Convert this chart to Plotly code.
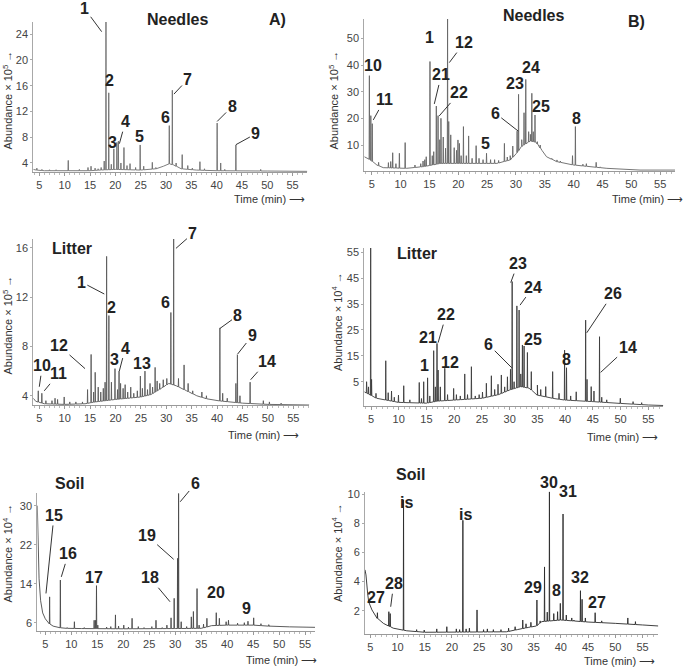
import numpy as np
import plotly.graph_objects as go

W, H = 685, 667
FONT = "Liberation Sans, Arial, Helvetica, sans-serif"
TXT = "#222222"

# ------------------------------------------------------------------ data
# A) Needles  (abundance x 10^5)
an_base_t = [3.8, 4.3, 6, 15, 17, 20, 25, 28, 29.5, 30.5, 31.5, 33, 36, 40, 50, 57.9]
an_base_v = [3.0, 2.9, 2.8, 2.8, 2.9, 3.0, 2.9, 3.1, 3.5, 3.9, 3.7, 3.1, 2.9, 2.8, 2.75, 2.7]
an_peak_t = [4.5, 5.5, 7.0, 8.3, 10.7, 12.9, 14.6, 15.2, 16.0, 16.6, 17.2, 17.8, 18.15, 18.7, 19.2,
             19.7, 20.3, 20.6, 21.1, 21.7, 22.3, 22.9, 24.0, 24.9, 25.6, 27.3, 28.0, 30.65, 31.25,
             32.0, 33.2, 34.3, 35.2, 36.7, 37.6, 40.1, 40.8, 41.6, 43.8, 48.7]
an_peak_h = [3.2, 3.0, 2.95, 2.95, 4.4, 3.0, 3.3, 3.5, 3.2, 3.1, 3.3, 4.3, 26.0, 14.9, 3.8,
             6.2, 7.2, 7.4, 4.0, 6.4, 3.6, 3.9, 3.3, 6.8, 3.5, 4.1, 3.3, 9.8, 15.3,
             4.0, 5.3, 3.6, 3.2, 4.2, 3.1, 10.2, 4.0, 3.0, 6.8, 3.0]

# B) Needles  (abundance x 10^5)
bn_base_t = [3.72, 4.4, 5.9, 7, 11, 14, 17, 26.7, 29, 30.1, 31, 32.5, 33.5, 34.5, 35.3, 37.1, 40,
             45.75, 51.5, 57.56]
bn_base_v = [5.6, 5.0, 2.5, 1.5, 1.25, 1.9, 3.1, 3.1, 4.4, 6.9, 9.5, 11.5, 11.0, 8.0, 5.6, 3.75, 2.5,
             1.25, 0.6, 0.6]
bn_peak_t = [4.6, 4.85, 5.1, 6.2, 7.9, 8.3, 8.64, 9.2, 9.8, 10.8, 12.5, 13.5, 13.9, 14.2, 14.45,
             15.1, 15.5, 15.75, 16.2, 16.5, 16.8, 17.0, 17.4, 17.8, 18.15, 18.35, 18.7, 19.3, 19.7,
             19.95, 20.2, 20.5, 20.9, 21.4, 21.8, 22.4, 23.1, 23.6, 24.3, 24.9, 25.6, 26.3, 27.0,
             28.0, 28.5, 29.0, 29.45, 30.2, 30.45, 31.0, 31.4, 31.7, 32.2, 32.5, 32.75, 33.0, 33.3,
             33.7, 34.2, 36.2, 37.1, 37.7, 39.8, 40.3, 41.6, 42.2, 43.9, 44.6]
bn_peak_h = [36, 21, 18, 3.5, 3.4, 3.8, 7.1, 3.0, 6.9, 10.9, 2.5, 3.0, 4.0, 4.5, 5.6,
             41.3, 6.0, 7.5, 24.6, 21, 12, 20, 13, 8.8, 57.5, 18.8, 13.8, 9, 8,
             11.9, 10.6, 6, 16.9, 6, 13.4, 5, 9.75, 5, 4.5, 6.9, 4.5, 4.5, 4.2,
             10.6, 5.5, 6, 9.6, 15.2, 29, 12, 22.1, 34.6, 15, 14, 29.4, 15, 21.25,
             11.25, 10, 5, 4.4, 4.0, 6, 16.9, 2.8, 3, 3.5, 1.8]

# A) Litter  (abundance x 10^5)
al_base_t = [3.82, 4.3, 6, 10, 14, 16, 20, 25, 27, 29, 30.5, 32, 34, 36, 38, 40, 45, 50, 58.15]
al_base_v = [3.8, 3.55, 3.35, 3.3, 3.35, 3.5, 3.7, 3.9, 4.1, 4.6, 5.0, 4.8, 4.4, 4.0, 3.75, 3.6,
             3.4, 3.3, 3.25]
al_peak_t = [4.8, 5.5, 6.3, 7.5, 8.1, 8.6, 9.9, 11.0, 12.2, 13.5, 14.5, 15.2, 15.7, 16.0, 16.6,
             17.1, 17.6, 17.95, 18.25, 18.7, 19.2, 19.9, 20.4, 20.7, 21.0, 21.5, 21.9, 22.4, 23.0,
             23.6, 24.3, 24.9, 25.3, 25.8, 26.3, 26.8, 27.3, 27.8, 28.2, 28.7, 29.4, 30.1, 30.9,
             31.45, 32.4, 33.5, 34.3, 35.2, 37.0, 37.9, 40.55, 41.1, 42.0, 43.7, 44.0, 44.5, 46.5,
             49.1, 50.3, 52.6]
al_peak_h = [4.4, 4.2, 3.6, 3.6, 3.8, 3.7, 3.9, 3.5, 3.5, 3.5, 4.5, 7.35, 4.3, 5.9, 4.7,
             4.3, 4.6, 5.1, 15.3, 10.5, 5.1, 6.2, 4.5, 6.0, 5.0, 4.6, 4.9, 4.3, 4.7,
             4.2, 4.4, 5.6, 4.6, 6.0, 4.5, 5.0, 4.7, 6.3, 5.2, 5.0, 5.3, 5.4, 10.75,
             16.8, 5.4, 6.5, 5.0, 4.4, 4.3, 4.0, 9.5, 4.2, 3.8, 5.0, 7.3, 4.0, 5.1,
             3.6, 3.5, 3.4]

# B) Litter  (abundance x 10^4)
bl_base_t = [3.79, 4.3, 6, 10, 15, 17, 20, 25, 28, 30, 32, 33.5, 35, 38, 40, 45, 50, 55, 57.7]
bl_base_v = [1.1, 0.5, -1.4, -3.0, -3.3, -2.5, -2.1, -1.4, 0.0, 1.8, 3.1, 2.5, -0.2, -1.5, -2.1,
             -2.7, -3.4, -4.0, -4.2]
bl_peak_t = [4.2, 4.55, 4.94, 5.1, 5.9, 7.66, 8.1, 8.7, 9.2, 9.95, 10.9, 12.0, 13.7, 14.1, 14.5,
             15.2, 15.6, 16.3, 16.6, 16.9, 17.1, 17.5, 18.3, 18.8, 19.9, 20.4, 21.1, 21.9, 22.4,
             23.1, 23.8, 24.5, 25.1, 25.8, 26.7, 27.3, 27.9, 28.5, 29.1, 29.6, 30.15, 30.45, 30.8,
             31.3, 31.7, 32.0, 32.3, 32.6, 33.2, 33.9, 35.0, 35.6, 36.5, 37.75, 38.9, 39.9, 40.25,
             41.0, 42.0, 43.7, 43.95, 44.7, 45.2, 46.2, 46.6, 47.5, 49.95, 52.25, 53.8]
bl_peak_h = [5, 3, 60, 5.9, 0.5, 13.1, 0.75, 1.4, -1, -0.2, 3.45, -2, 4.7, -1.5, 5,
             6.5, -0.5, 17, 3, 19.8, 9.5, 3, 10.2, 0, 2.4, 0, -0.5, 8, 0,
             10.8, -0.5, 0, 1, 4.4, 7.3, 2, 4, 7.6, 3, 6.9, 9.8, 43.7, 5,
             34.3, 32.7, 8, 19.2, 18.8, 16.3, 8.9, 3.7, 2, 3.1, 8.9, 0.5, 17.2, 10.4,
             -0.5, 1.1, 28.8, 5.9, 3.1, 1.4, 22.4, -1, -2, -1.4, -2.7, -3.1]

# A) Soil  (abundance x 10^4)
as_base_t = [3.46, 3.6, 3.8, 4.1, 4.5, 5, 5.6, 6.5, 7.5, 9, 12, 20, 30, 35, 36, 37, 40, 45, 48,
             52, 56.9]
as_base_v = [30, 24, 15, 10.5, 8, 6.8, 5.9, 5.3, 5.0, 4.85, 4.8, 4.75, 4.8, 4.85, 5.1, 5.4, 5.5,
             5.5, 5.3, 5.15, 5.05]
as_peak_t = [5.83, 7.9, 9.2, 10.6, 12.5, 14.4, 14.65, 14.85, 15.1, 16.8, 17.6, 18.5, 19.1, 20.1,
             21.0, 21.7, 22.9, 24.0, 25.5, 26.3, 27.5, 28.4, 29.2, 29.8, 30.45, 30.65, 31.15,
             32.2, 33.1, 33.5, 34.2, 34.6, 35.45, 36.1, 37.9, 38.5, 39.8, 40.25, 42.0, 43.3, 44.0,
             45.1, 46.5, 48.0]
as_peak_h = [11.3, 14.75, 5.0, 6.2, 5.0, 6.5, 6.5, 13.6, 5.5, 5.1, 5.2, 7.6, 5.3, 5.5,
             5.1, 6.9, 5.2, 5.0, 5.2, 6.5, 5.0, 5.5, 7.0, 11.0, 19.2, 32.5, 6.2,
             5.2, 7.2, 8.3, 13.0, 5.5, 5.7, 6.9, 8.05, 6.9, 6.2, 6.5, 5.9, 6.0, 6.3,
             7.0, 5.8, 5.6]

# B) Soil  (abundance x 10^4)
bs_base_t = [4.02, 4.2, 4.5, 4.7, 5.3, 6.2, 7.4, 9.2, 11.7, 15, 30, 32, 34, 35.5, 36.5, 40, 45,
             50, 55, 57.9]
bs_base_v = [4.8, 4.45, 3.2, 2.6, 2.05, 1.5, 1.13, 0.8, 0.62, 0.52, 0.55, 0.7, 0.85, 0.95, 1.25,
             1.36, 1.22, 1.13, 1.02, 0.95]
bs_peak_t = [6.3, 8.4, 8.65, 11.1, 13.5, 14.9, 17.2, 19.05, 20.8, 21.4, 22.0, 22.6, 23.2, 24.6,
             25.8, 26.5, 27.6, 29.0, 30.4, 31.6, 33.0, 33.6, 34.5, 35.6, 36.2, 37.0, 37.5, 37.9,
             38.7, 39.4, 39.9, 40.4, 41.0, 42.0, 42.4, 43.6, 43.9, 44.5, 46.3, 47.5, 52.3, 53.7]
bs_peak_h = [1.86, 1.93, 1.8, 9.6, 0.7, 0.67, 0.75, 0.9, 0.75, 0.7, 8.2, 0.75, 0.8, 2.05,
             0.7, 0.75, 0.7, 0.7, 0.8, 0.9, 1.36, 1.1, 1.2, 2.73, 1.3, 5.0, 1.9, 10.16,
             1.8, 1.93, 2.5, 8.63, 1.7, 1.5, 1.36, 3.37, 2.78, 1.5, 1.86, 1.3, 1.5, 1.25]

x_ticks = [5, 10, 15, 20, 25, 30, 35, 40, 45, 50, 55]

# peak labels: (text, time, abundance, leader dx px, leader dy px) ; dx=None -> no leader
an_labels = [("1", 17.3, 24.4, -17, -23), ("2", 18.8, 16.76, None, None), ("3", 19.4, 7.2, None, None),
             ("4", 20.8, 7.0, 6, -22), ("5", 24.86, 8.1, None, None), ("6", 29.9, 11.0, None, None),
             ("7", 31.57, 14.7, 14, -15), ("8", 40.1, 10.45, 15, -15), ("9", 43.8, 6.84, 20, -11)]
bn_labels = [("10", 5.28, 39.7, None, None), ("11", 5.28, 19.4, 11, -20), ("1", 14.98, 50.2, None, None),
             ("12", 18.45, 40.9, 15, -20), ("21", 15.85, 25.4, 7, -29), ("22", 16.7, 20.9, 20, -23),
             ("5", 24.75, 10.4, None, None), ("6", 30.4, 15.2, -23, -18), ("23", 29.84, 33.1, None, None),
             ("24", 32.56, 39.0, None, None), ("25", 34.3, 24.6, None, None), ("8", 40.5, 20.0, None, None)]
al_labels = [("1", 17.8, 12.25, -23, -12), ("2", 19.25, 11.17, None, None), ("12", 14.0, 6.2, -26, -23),
             ("10", 5.0, 4.73, 3, -21), ("11", 5.98, 4.4, 14, -17), ("3", 19.76, 6.9, None, None),
             ("4", 20.75, 6.0, 6, -23), ("13", 25.3, 6.6, None, None), ("6", 29.9, 11.6, None, None),
             ("7", 31.9, 15.95, 17, -15), ("8", 40.57, 9.46, 18, -13), ("9", 43.98, 7.35, 15, -19),
             ("14", 46.6, 5.3, 16, -18)]
bl_labels = [("23", 30.19, 43.3, 7, -19), ("24", 31.87, 34.6, 13, -18), ("22", 17.1, 20.1, 8, -28),
             ("21", 15.3, 22.1, None, None), ("1", 14.6, 11.45, None, None), ("12", 19.25, 12.3, None, None),
             ("6", 30.37, 10.4, -23, -23), ("25", 34.15, 21.5, None, None), ("8", 40.3, 13.6, None, None),
             ("26", 43.9, 23.9, 26, -39), ("14", 46.4, 8.6, 27, -25)]
as_labels = [("15", 5.13, 12.0, 8, -78), ("16", 8.08, 15.4, 7, -23), ("17", 14.3, 15.2, None, None),
             ("19", 29.7, 19.0, -27, -24), ("18", 29.0, 10.3, -20, -24), ("6", 30.96, 30.8, 15, -18),
             ("20", 37.9, 12.15, None, None), ("9", 43.8, 8.9, None, None)]
bs_labels = [("is", 11.7, 9.43, None, None), ("is", 22.4, 8.63, None, None), ("27", 5.98, 2.91, None, None),
             ("28", 8.74, 2.27, 3, -23), ("29", 34.9, 3.58, None, None), ("30", 37.76, 10.78, None, None),
             ("31", 41.4, 10.16, None, None), ("8", 39.2, 3.35, None, None), ("32", 43.6, 4.29, None, None),
             ("27", 46.66, 2.57, None, None)]

# ------------------------------------------------------------------ layout (pixels)
panels = [
    dict(pt=an_peak_t, ph=an_peak_h, bt=an_base_t, bv=an_base_v, lab=an_labels, color="#6e6e6e",
         l=33.3, r=307.3, t=22, b=172, xr=[3.8, 57.9], yr=[2.6, 25.9], yt=[4, 8, 12, 16, 20, 24]),
    dict(pt=bn_peak_t, ph=bn_peak_h, bt=bn_base_t, bv=bn_base_v, lab=bn_labels, color="#666666",
         l=364.3, r=675, t=19, b=171, xr=[3.72, 57.56], yr=[0.25, 57.25], yt=[10, 20, 30, 40, 50]),
    dict(pt=al_peak_t, ph=al_peak_h, bt=al_base_t, bv=al_base_v, lab=al_labels, color="#5a5a5a",
         l=33.3, r=309.3, t=239, b=405, xr=[3.82, 58.15], yr=[3.25, 16.71], yt=[4, 8, 12, 16]),
    dict(pt=bl_peak_t, ph=bl_peak_h, bt=bl_base_t, bv=bl_base_v, lab=bl_labels, color="#3c3c3c",
         l=364.3, r=663.3, t=248, b=406, xr=[3.79, 57.7], yr=[-4.39, 56.68], yt=[5, 15, 25, 35, 45, 55]),
    dict(pt=as_peak_t, ph=as_peak_h, bt=as_base_t, bv=as_base_v, lab=as_labels, color="#4a4a4a",
         l=37.3, r=315, t=493, b=630.7, xr=[3.46, 56.9], yr=[4.36, 32.6], yt=[6, 14, 22, 30]),
    dict(pt=bs_peak_t, ph=bs_peak_h, bt=bs_base_t, bv=bs_base_v, lab=bs_labels, color="#2a2a2a",
         l=365, r=658.3, t=491.7, b=634, xr=[4.02, 57.9], yr=[0.4, 10.16], yt=[2, 4, 6, 8, 10]),
]

# paper texts: (text, x px, y px, size, bold, angle)
ytitle5 = "Abundance × 10<sup>5</sup> →"
ytitle4 = "Abundance × 10<sup>4</sup> →"
ttitle = "Time (min) ⟶"
paper_texts = [
    ("Needles", 177.3, 19.3, 16, True, 0), ("A)", 277.7, 19, 16, True, 0),
    ("Needles", 533.3, 15.7, 16, True, 0), ("B)", 636, 21.7, 16, True, 0),
    ("Litter", 72.3, 248.3, 16, True, 0), ("Litter", 416.7, 253.3, 16, True, 0),
    ("Soil", 69.3, 483.3, 16, True, 0), ("Soil", 410, 474.3, 16, True, 0),
    (ytitle5, 7.5, 100, 11, False, -90), (ytitle5, 333.5, 100, 11, False, -90),
    (ytitle5, 7.5, 325, 11, False, -90), (ytitle4, 337, 322, 11, False, -90),
    (ytitle4, 7.5, 553, 11, False, -90), (ytitle4, 337, 553, 11, False, -90),
    (ttitle, 269, 199, 11, False, 0), (ttitle, 647, 199, 11, False, 0),
    (ttitle, 263, 435, 11, False, 0), (ttitle, 622, 437, 11, False, 0),
    (ttitle, 281, 660, 11, False, 0), (ttitle, 619, 661, 11, False, 0),
]


def chromatogram(pt, ph, bt, bv, hw=0.05):
    bt_a = np.asarray(bt, float)
    bv_a = np.asarray(bv, float)
    pts = [(float(t), float(v)) for t, v in zip(bt, bv)]
    for t, h in zip(pt, ph):
        b = float(np.interp(t, bt_a, bv_a))
        pts += [(t - hw, b), (t, float(h)), (t + hw, b)]
    pts.sort(key=lambda p: p[0])
    return [p[0] for p in pts], [p[1] for p in pts]


fig = go.Figure()
annotations = []
layout = dict(width=W, height=H, margin=dict(l=0, r=0, t=0, b=0, autoexpand=False), showlegend=False,
              paper_bgcolor="white", plot_bgcolor="white", font=dict(family=FONT, color=TXT))

for i, p in enumerate(panels, start=1):
    xs, ys = chromatogram(p["pt"], p["ph"], p["bt"], p["bv"])
    xa = "x" if i == 1 else f"x{i}"
    ya = "y" if i == 1 else f"y{i}"
    fig.add_trace(go.Scatter(x=xs, y=ys, mode="lines", xaxis=xa, yaxis=ya,
                             line=dict(color=p["color"], width=0.9), hoverinfo="skip"))
    layout["xaxis" if i == 1 else f"xaxis{i}"] = dict(
        domain=[p["l"] / W, p["r"] / W], range=p["xr"], anchor=ya,
        tickmode="array", tickvals=x_ticks, ticks="outside", ticklen=3, tickcolor="#999",
        minor=dict(tickmode="linear", tick0=0, dtick=1, ticks="outside", ticklen=2, tickcolor="#bbb"),
        showline=True, linecolor="#9a9a9a", linewidth=1, showgrid=False, zeroline=False,
        tickfont=dict(size=11, color="#444"), fixedrange=True)
    layout["yaxis" if i == 1 else f"yaxis{i}"] = dict(
        domain=[1 - p["b"] / H, 1 - p["t"] / H], range=p["yr"], anchor=xa,
        tickmode="array", tickvals=p["yt"], ticks="outside", ticklen=2, tickcolor="#aaa",
        showline=True, linecolor="#a8a8a8", linewidth=1, showgrid=False, zeroline=False,
        tickfont=dict(size=11, color="#444"), fixedrange=True)
    px_per_unit = (p["b"] - p["t"]) / (p["yr"][1] - p["yr"][0])
    y_hi = p["yr"][1] - 1e-6
    for text, t, v, dx, dy in p["lab"]:
        yshift = 0.0
        if v > y_hi:  # keep anchor inside the range so the label is drawn
            yshift = (v - y_hi) * px_per_unit
            v = y_hi
        a = dict(text=f"<b>{text}</b>", x=t, y=v, xref=xa, yref=ya, yshift=yshift,
                 font=dict(size=16, color=TXT, family=FONT))
        if dx is None:
            a.update(showarrow=False)
        else:
            a.update(showarrow=True, arrowhead=0, arrowwidth=1, arrowcolor="#333",
                     ax=dx, ay=dy, standoff=0)
        annotations.append(a)

for text, xp, yp, size, bold, ang in paper_texts:
    annotations.append(dict(text=f"<b>{text}</b>" if bold else text, x=xp / W, y=1 - yp / H,
                            xref="paper", yref="paper", showarrow=False, textangle=ang,
                            xanchor="center", yanchor="middle",
                            font=dict(size=size, color=TXT if bold else "#333", family=FONT)))

layout["annotations"] = annotations
fig.update_layout(**layout)
fig.write_html("out.html", config={"displayModeBar": False, "staticPlot": True},
               post_script="document.body.style.margin='0';document.body.style.padding='0';")
